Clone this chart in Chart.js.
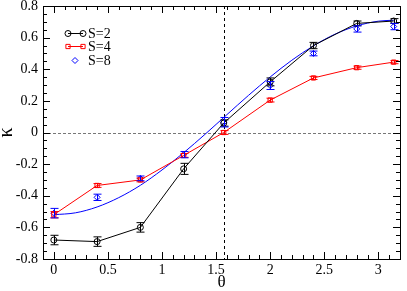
<!DOCTYPE html>
<html>
<head>
<meta charset="utf-8">
<script src="https://cdn.jsdelivr.net/npm/chart.js@4"></script>
<style>
  html, body { margin: 0; padding: 0; background: #fff; }
  #wrap { width: 407px; height: 291px; }
</style>
</head>
<body>
<div id="wrap"><canvas id="kappaChart"></canvas></div>
<script>
// measured points (theta, kappa) with error bars
const thetaPts = [0, 0.4, 0.8, 1.2, 1.5708, 2.0, 2.4, 2.8, 3.1416];
const kappaS2 = [-0.68, -0.69, -0.60, -0.23, 0.06, 0.32, 0.55, 0.69, 0.705];
const errS2 = [0.03, 0.03, 0.03, 0.035, 0.02, 0.025, 0.02, 0.015, 0.015];
const kappaS4 = [-0.52, -0.335, -0.30, -0.145, 0.0, 0.205, 0.345, 0.41, 0.445];
const errS4 = [0.02, 0.012, 0.012, 0.012, 0.012, 0.012, 0.01, 0.01, 0.01];
const kappaS8 = [-0.51, -0.41, -0.29, -0.14, 0.065, 0.297, 0.50, 0.655, 0.67];
const errS8 = [0.03, 0.02, 0.015, 0.02, 0.03, 0.025, 0.015, 0.02, 0.02];

// blue fitted curve
const fitTheta = [0, 0.2, 0.4, 0.6, 0.8, 1.0, 1.2, 1.4, 1.6, 1.8, 2.0, 2.2, 2.4, 2.6, 2.8, 3.0, 3.1416];
const fitKappa = [-0.52, -0.508, -0.471, -0.412, -0.334, -0.237, -0.128, -0.01, 0.113, 0.235, 0.351, 0.457, 0.548, 0.622, 0.674, 0.704, 0.71];

const seriesNames = ['S=2', 'S=4', 'S=8'];

const SERIF = "'Liberation Serif', 'Times New Roman', 'DejaVu Serif', serif";

const toXY = (xs, ys) => xs.map((x, i) => ({ x: x, y: ys[i] }));

const decor = {
    id: 'decor',
    beforeDatasetsDraw(chart) {
        const { ctx, chartArea: a, scales } = chart;
        const y0 = scales.y.getPixelForValue(0);
        const xh = scales.x.getPixelForValue(Math.PI / 2);
        ctx.save();
        ctx.lineWidth = 1;
        ctx.strokeStyle = '#777';
        ctx.setLineDash([3, 2]);
        ctx.beginPath();
        ctx.moveTo(a.left, Math.round(y0) + 0.5);
        ctx.lineTo(a.right, Math.round(y0) + 0.5);
        ctx.stroke();
        ctx.strokeStyle = '#000';
        ctx.setLineDash([3, 3]);
        ctx.beginPath();
        ctx.moveTo(Math.round(xh) + 0.5, a.top);
        ctx.lineTo(Math.round(xh) + 0.5, a.bottom);
        ctx.stroke();
        ctx.restore();
    },
    afterDatasetsDraw(chart) {
        const { ctx, chartArea: a, scales } = chart;
        ctx.save();
        ctx.setLineDash([]);
        ctx.lineWidth = 1;

        // error bars
        chart.data.datasets.forEach(ds => {
            if (!ds.errors) return;
            ctx.strokeStyle = ds.borderColor;
            ds.data.forEach((p, i) => {
                const px = Math.round(scales.x.getPixelForValue(p.x)) + 0.5;
                const top = scales.y.getPixelForValue(p.y + ds.errors[i]);
                const bot = scales.y.getPixelForValue(p.y - ds.errors[i]);
                ctx.beginPath();
                ctx.moveTo(px, top); ctx.lineTo(px, bot);
                ctx.moveTo(px - 4, top); ctx.lineTo(px + 4, top);
                ctx.moveTo(px - 4, bot); ctx.lineTo(px + 4, bot);
                ctx.stroke();
            });
        });

        // frame
        ctx.strokeStyle = '#000';
        ctx.strokeRect(Math.round(a.left) + 0.5, Math.round(a.top) + 0.5,
            Math.round(a.right - a.left), Math.round(a.bottom - a.top));

        // inward ticks
        ctx.beginPath();
        for (let k = -16; k <= 16; k++) {
            const py = Math.round(scales.y.getPixelForValue(k * 0.05)) + 0.5;
            const len = k % 4 === 0 ? 7 : 4;
            ctx.moveTo(a.left, py); ctx.lineTo(a.left + len, py);
            ctx.moveTo(a.right, py); ctx.lineTo(a.right - len, py);
        }
        for (let k = -1; k <= 32; k++) {
            const px = Math.round(scales.x.getPixelForValue(k * 0.1)) + 0.5;
            const len = k % 5 === 0 ? 7 : 4;
            ctx.moveTo(px, a.bottom); ctx.lineTo(px, a.bottom - len);
            ctx.moveTo(px, a.top); ctx.lineTo(px, a.top + len);
        }
        ctx.stroke();

        // legend
        ctx.font = '14px ' + SERIF;
        ctx.textBaseline = 'middle';
        ctx.textAlign = 'left';
        const rows = [33, 46, 60];
        chart.data.datasets.slice(0, 3).forEach((ds, i) => {
            const ly = rows[i];
            const mark = { pointStyle: ds.pointStyle, radius: ds.pointRadius, borderWidth: 1 };
            ctx.strokeStyle = ds.borderColor;
            ctx.fillStyle = 'rgba(0,0,0,0)';
            if (ds.showLine) {
                ctx.beginPath();
                ctx.moveTo(68, ly + 0.5); ctx.lineTo(83, ly + 0.5);
                ctx.stroke();
                Chart.helpers.drawPoint(ctx, mark, 68, ly + 0.5);
                Chart.helpers.drawPoint(ctx, mark, 83, ly + 0.5);
            } else {
                Chart.helpers.drawPoint(ctx, mark, 75, ly + 0.5);
            }
            ctx.fillStyle = '#000';
            ctx.fillText(seriesNames[i], 88, ly + 1);
        });
        ctx.restore();
    }
};

new Chart(document.getElementById('kappaChart'), {
    type: 'scatter',
    data: {
        datasets: [
            {
                label: seriesNames[0],
                data: toXY(thetaPts, kappaS2),
                errors: errS2,
                showLine: true,
                borderColor: '#000',
                backgroundColor: 'transparent',
                borderWidth: 1,
                pointStyle: 'circle',
                pointRadius: 3,
                pointBorderWidth: 1
            },
            {
                label: seriesNames[1],
                data: toXY(thetaPts, kappaS4),
                errors: errS4,
                showLine: true,
                borderColor: '#ff0000',
                backgroundColor: 'transparent',
                borderWidth: 1,
                pointStyle: 'rect',
                pointRadius: 3,
                pointBorderWidth: 1
            },
            {
                label: seriesNames[2],
                data: toXY(thetaPts, kappaS8),
                errors: errS8,
                showLine: false,
                borderColor: '#0000ff',
                backgroundColor: 'transparent',
                pointStyle: 'rectRot',
                pointRadius: 3,
                pointBorderWidth: 1
            },
            {
                label: 'fit',
                data: toXY(fitTheta, fitKappa),
                showLine: true,
                borderColor: '#0000ff',
                borderWidth: 1,
                pointRadius: 0,
                cubicInterpolationMode: 'monotone'
            }
        ]
    },
    options: {
        responsive: true,
        maintainAspectRatio: false,
        animation: false,
        layout: { padding: { top: 6, right: 7, left: 0, bottom: 0 } },
        plugins: {
            legend: { display: false },
            tooltip: { enabled: false }
        },
        scales: {
            x: {
                type: 'linear',
                min: -0.1,
                max: 3.2,
                grid: { display: false, drawTicks: false },
                border: { display: false },
                ticks: {
                    stepSize: 0.5,
                    includeBounds: false,
                    maxRotation: 0,
                    padding: 3,
                    color: '#000',
                    font: { family: SERIF, size: 14 },
                    callback: v => String(Math.round(v * 10) / 10)
                },
                title: {
                    display: true,
                    text: 'θ',
                    color: '#000',
                    padding: 0,
                    font: { family: SERIF, size: 17, lineHeight: 1 }
                },
                afterFit: s => { s.height = 32; s.paddingLeft = 0; s.paddingRight = 0; }
            },
            y: {
                min: -0.8,
                max: 0.8,
                grid: { display: false, drawTicks: false },
                border: { display: false },
                ticks: {
                    stepSize: 0.2,
                    padding: 5,
                    color: '#000',
                    font: { family: SERIF, size: 14 },
                    callback: v => String(Math.round(v * 10) / 10)
                },
                title: {
                    display: true,
                    text: 'κ',
                    color: '#000',
                    padding: 0,
                    font: { family: SERIF, size: 20, lineHeight: 0.7 }
                },
                afterFit: s => { s.width = 43; s.paddingTop = 0; s.paddingBottom = 0; }
            }
        }
    },
    plugins: [decor]
});
</script>
</body>
</html>
